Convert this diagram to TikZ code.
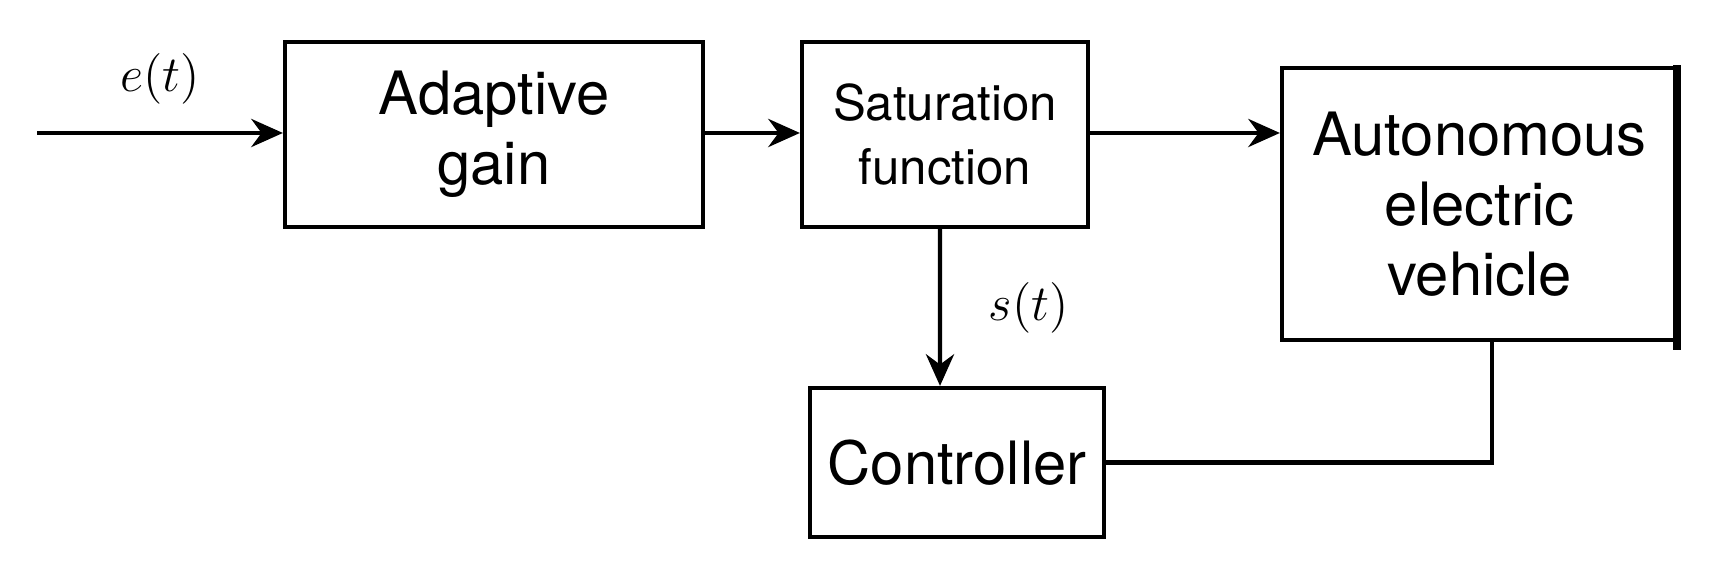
\documentclass[tikz,border=0pt]{standalone}
\usepackage{fontspec}
\setmainfont{TeX Gyre Heros}
\usetikzlibrary{calc,arrows.meta}
\begin{document}
\begin{tikzpicture}[
        -{Stealth[length=9pt,width=8pt]}, % Arrow style
        line width=1.2pt, % line style
        every edge/.style={draw,line width=1.2pt}
      ]

      \tikzstyle{block}=[rectangle,draw=black,line width=1.2pt,align=center,inner sep=0pt]

      \useasboundingbox (0,0) rectangle (17.1,5.64);

      \node[block,minimum width=4.18cm,minimum height=1.85cm,font=\fontsize{17}{20}\selectfont] (gain) at (4.94,4.295) {Adaptive\\gain};
      \node[block,minimum width=2.86cm,minimum height=1.85cm,font=\fontsize{14}{18}\selectfont] (sat) at (9.45,4.295) {Saturation\\function};
      \node[block,minimum width=3.95cm,minimum height=2.72cm,font=\fontsize{17}{20}\selectfont] (auto) at (14.795,3.6) {Autonomous\\electric\\vehicle};
      \node[block,minimum width=2.94cm,minimum height=1.49cm,font=\fontsize{17}{20}\selectfont] (ctrl) at (9.57,1.015) {Controller};
      \coordinate (in) at (0.37,4.31);

      \path (in) edge node[above=0.15cm,font=\Large] {$e(t)$} (gain.west |- in);
      \path (gain.east |- in) edge (sat.west |- in);
      \path (sat.east |- in) edge (auto.west |- in);
      \path ($(sat.south)+(-0.05,0)$) edge node[right=0.35cm,font=\Large] {$s(t)$} ($(ctrl.north)+(-0.17,0)$);
      \draw[-] (ctrl.east) -| ($(auto.south)+(0.125,0)$);

      \draw[-,line width=2.2pt] (16.77,2.14) -- (16.77,4.99);

    \end{tikzpicture}
\end{document}
